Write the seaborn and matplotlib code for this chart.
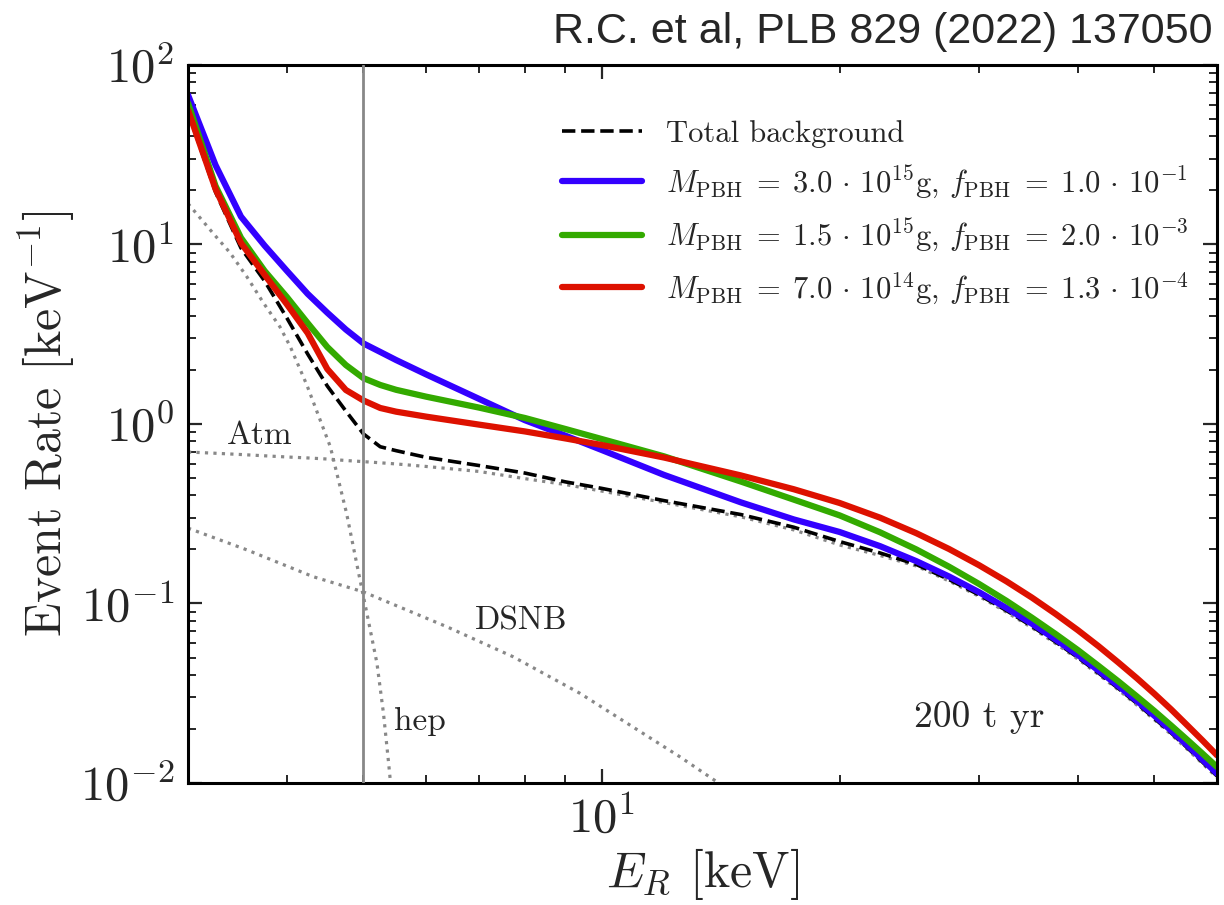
import matplotlib
matplotlib.use("Agg")
import numpy as np
import pandas as pd
import seaborn as sns
import matplotlib.pyplot as plt
from matplotlib.ticker import FuncFormatter, NullFormatter, LogLocator

# recoil energy grid [keV] shared by the total curves
energy = [3, 3.25, 3.5, 3.75, 4, 4.25, 4.5, 4.75, 5, 5.25, 5.5, 6, 7, 8, 9,
          10, 12, 15, 17.5, 20, 22.5, 25, 27.5, 30, 32.5, 35, 37.5, 40, 42.5,
          45, 47.5, 50, 52.5, 55, 57.5, 60]

# event rates [1/keV]
rate_bkg = [54.7, 19.6, 9.56, 6.26, 3.90, 2.455, 1.628, 1.181, 0.880, 0.747,
            0.710, 0.652, 0.587, 0.533, 0.476, 0.438, 0.374, 0.313, 0.266,
            0.2213, 0.1911, 0.1650, 0.1360, 0.1118, 0.0914, 0.0747, 0.0611,
            0.0501, 0.0410, 0.0337, 0.0278, 0.0229, 0.0190, 0.01575, 0.01309,
            0.01094]
rate_pbh1 = [68.1, 27.7, 14.3, 9.85, 7.14, 5.31, 4.17, 3.36, 2.81, 2.52, 2.27,
             1.89, 1.38, 1.05, 0.861, 0.717, 0.520, 0.366, 0.294, 0.2502,
             0.2086, 0.1722, 0.1414, 0.1157, 0.0945, 0.0772, 0.0631, 0.0517,
             0.0423, 0.0348, 0.0287, 0.0237, 0.0196, 0.01626, 0.01352, 0.01128]
rate_pbh2 = [61.4, 21.2, 10.9, 7.12, 5.10, 3.65, 2.685, 2.13, 1.80, 1.65, 1.55,
             1.42, 1.234, 1.080, 0.938, 0.825, 0.660, 0.478, 0.379, 0.3096,
             0.2492, 0.2001, 0.1603, 0.1286, 0.1035, 0.0834, 0.0676, 0.0551,
             0.0449, 0.0369, 0.0304, 0.0252, 0.0209, 0.01743, 0.01460, 0.01228]
rate_pbh3 = [56.1, 20.4, 10.2, 6.77, 4.65, 3.21, 2.025, 1.547, 1.352, 1.228,
             1.171, 1.099, 0.992, 0.909, 0.831, 0.764, 0.650, 0.517, 0.433,
             0.3630, 0.3006, 0.2464, 0.2012, 0.1636, 0.1329, 0.1079, 0.0875,
             0.0711, 0.0578, 0.0470, 0.0384, 0.0314, 0.0257, 0.0210, 0.01729,
             0.01427]
rate_atm = [0.698, 0.687, 0.676, 0.665, 0.655, 0.647, 0.638, 0.626, 0.617,
            0.608, 0.599, 0.580, 0.544, 0.496, 0.460, 0.423, 0.365, 0.304,
            0.257, 0.2118, 0.1851, 0.1618, 0.1334, 0.1097, 0.0896, 0.0733,
            0.0599, 0.0491, 0.0402, 0.0331, 0.0272, 0.0225, 0.01863, 0.01545,
            0.01284, 0.01073]

# hep and DSNB components
hep_energy = [3.0, 3.23, 3.39, 3.56, 3.74, 3.92, 4.04, 4.24, 4.54, 4.76, 4.95,
              5.05, 5.20, 5.30, 5.38, 5.42]
hep_rate = [16.9, 11.5, 9.0, 6.62, 4.70, 3.48, 2.70, 1.649, 0.747, 0.318,
            0.1352, 0.0882, 0.0465, 0.0244, 0.01288, 0.0092]
dsnb_energy = [3.0, 3.56, 4.32, 5.0, 6.37, 7.73, 9.39, 12.56, 13.98, 14.96]
dsnb_rate = [0.263, 0.199, 0.141, 0.116, 0.0743, 0.0505, 0.0316, 0.0140,
             0.01017, 0.0083]

threshold = 5.0

pbh_labels = [
    r"$M_{\rm PBH}\;=\;3.0\,\cdot\,10^{15}$g, $f_{\rm PBH}\;=\;1.0\,\cdot\,10^{-1}$",
    r"$M_{\rm PBH}\;=\;1.5\,\cdot\,10^{15}$g, $f_{\rm PBH}\;=\;2.0\,\cdot\,10^{-3}$",
    r"$M_{\rm PBH}\;=\;7.0\,\cdot\,10^{14}$g, $f_{\rm PBH}\;=\;1.3\,\cdot\,10^{-4}$",
]
pbh_colors = ["#3300ff", "#33aa00", "#dd1100"]

sns.set_style("ticks")
plt.rcParams["font.family"] = ["cmr10"]
plt.rcParams["mathtext.fontset"] = "cm"
plt.rcParams["axes.unicode_minus"] = False

fig, ax = plt.subplots(figsize=(12.24, 9.05), dpi=100)
fig.subplots_adjust(left=0.1536, right=0.9943, top=0.9282, bottom=0.1348)
ax.set(xscale="log", yscale="log")

dot_kw = dict(color="#888888", linestyle=":", linewidth=2.3)
sns.lineplot(x=energy, y=rate_atm, ax=ax, **dot_kw)
sns.lineplot(x=hep_energy, y=hep_rate, ax=ax, **dot_kw)
sns.lineplot(x=dsnb_energy, y=dsnb_rate, ax=ax, **dot_kw)

sns.lineplot(x=energy, y=rate_bkg, ax=ax, color="black", linestyle="--",
             linewidth=2.6, label="Total background")
for rates, lab, col in zip([rate_pbh1, rate_pbh2, rate_pbh3], pbh_labels, pbh_colors):
    sns.lineplot(x=energy, y=rates, ax=ax, color=col, linewidth=4.5, label=lab)

ax.axvline(threshold, color="#888888", linewidth=2.0, zorder=5)

ax.set_xlim(3, 60)
ax.set_ylim(1e-2, 1e2)

fmt = FuncFormatter(lambda v, p: r"$10^{%d}$" % int(round(np.log10(v))))
ax.xaxis.set_major_formatter(fmt)
ax.yaxis.set_major_formatter(fmt)
ax.xaxis.set_minor_formatter(NullFormatter())
ax.yaxis.set_minor_formatter(NullFormatter())
ax.yaxis.set_minor_locator(LogLocator(base=10, subs=np.arange(2, 10)))

ax.tick_params(which="both", direction="in", top=True, right=True,
               labelsize=35, pad=10)
ax.tick_params(which="major", length=10, width=1.6)
ax.tick_params(which="minor", length=6, width=1.4)
for sp in ax.spines.values():
    sp.set_linewidth(2.2)
    sp.set_color("black")

ax.set_xlabel(r"$E_R$ [keV]", fontsize=36, labelpad=2)
ax.set_ylabel(r"Event Rate [keV$^{-1}$]", fontsize=36, labelpad=2)

ax.text(3.70, 0.868, "Atm", fontsize=24, ha="center", va="center")
ax.text(7.91, 0.0799, "DSNB", fontsize=24, ha="center", va="center")
ax.text(5.90, 0.0221, "hep", fontsize=24, ha="center", va="center")
ax.text(30.0, 0.0233, "200 t yr", fontsize=27, ha="center", va="center")

ax.legend(loc="upper left", bbox_to_anchor=(0.337, 0.962), frameon=False,
          fontsize=22, handlelength=2.6, handletextpad=0.8, labelspacing=0.52)

fig.text(0.991, 0.965, "R.C. et al, PLB 829 (2022) 137050",
         family=["Liberation Sans", "DejaVu Sans"], fontsize=31,
         ha="right", va="center")

fig.savefig("out.png", dpi=100)
plt.close(fig)
